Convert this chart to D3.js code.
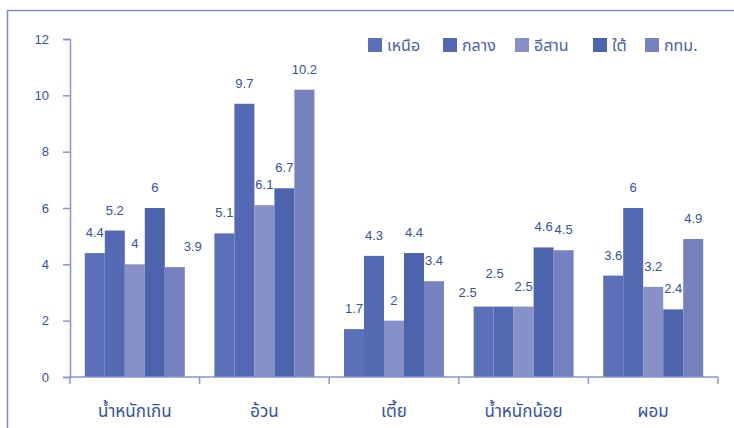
<!DOCTYPE html>
<html>
<head>
<meta charset="utf-8">
<script src="https://cdn.jsdelivr.net/npm/d3@7"></script>
<style>
  html, body { margin: 0; padding: 0; background: #ffffff; }
  svg { display: block; }
  text { font-family: "Liberation Sans", Arial, sans-serif; }
  .thai { font-family: "Noto Sans Thai", "Noto Sans", Tahoma, sans-serif; }
</style>
</head>
<body>
<svg id="chart" width="734" height="428"></svg>
<script>
// Nutrition status by region (percent)
const categories = ["น้ำหนักเกิน", "อ้วน", "เตี้ย", "น้ำหนักน้อย", "ผอม"];
const seriesNames = ["เหนือ", "กลาง", "อีสาน", "ใต้", "กทม."];
const north    = [4.4, 5.1, 1.7, 2.5, 3.6];
const central  = [5.2, 9.7, 4.3, 2.5, 6];
const northeast = [4, 6.1, 2, 2.5, 3.2];
const south    = [6, 6.7, 4.4, 4.6, 2.4];
const bangkok  = [3.9, 10.2, 3.4, 4.5, 4.9];
const yTicks = [0, 2, 4, 6, 8, 10, 12];

const seriesValues = [north, central, northeast, south, bangkok];
const colors = ["#5b70b8", "#5369b4", "#8790c7", "#4c64ae", "#7681bf"];
const axisColor = "#8a93cc";
const textColor = "#3452a4";

// A few value labels sit off-centre to keep them clear of neighbouring bars
const labelNudge = {
  "0-4": [18, 0],
  "3-0": [-16, 6],
  "3-1": [-9, -13]
};

const svg = d3.select("#chart");
const margin = { left: 70, right: 16, top: 39, bottom: 51 };
const W = 734, H = 428;

// outer frame
svg.append("rect")
  .attr("x", 7.5).attr("y", 10.5)
  .attr("width", 760).attr("height", 440)
  .attr("fill", "none")
  .attr("stroke", "#7f8ac9")
  .attr("stroke-width", 1.5);

const x0 = d3.scaleBand()
  .domain(categories)
  .range([margin.left, W - margin.right])
  .paddingInner(0).paddingOuter(0);

const x1 = d3.scaleBand()
  .domain(d3.range(seriesNames.length))
  .range([0, x0.bandwidth()])
  .paddingInner(0).paddingOuter(0.74);

const y = d3.scaleLinear()
  .domain([0, 12])
  .range([H - margin.bottom, margin.top]);

// bars
const groups = svg.append("g").selectAll("g")
  .data(categories)
  .join("g")
  .attr("transform", d => `translate(${x0(d)},0)`);

groups.selectAll("rect")
  .data((c, ci) => seriesValues.map((vals, si) => ({ si, ci, v: vals[ci] })))
  .join("rect")
  .attr("x", d => x1(d.si))
  .attr("y", d => y(d.v))
  .attr("width", x1.bandwidth())
  .attr("height", d => y(0) - y(d.v))
  .attr("fill", d => colors[d.si]);

// value labels
groups.selectAll("text.val")
  .data((c, ci) => seriesValues.map((vals, si) => ({ si, ci, v: vals[ci] })))
  .join("text")
  .attr("class", "val")
  .attr("x", d => x1(d.si) + x1.bandwidth() / 2 + (labelNudge[d.ci + "-" + d.si] || [0, 0])[0])
  .attr("y", d => y(d.v) - 16 + (labelNudge[d.ci + "-" + d.si] || [0, 0])[1])
  .attr("text-anchor", "middle")
  .attr("font-size", 13)
  .attr("fill", textColor)
  .text(d => d.v);

// y axis
const yAxis = d3.axisLeft(y).tickValues(yTicks).tickSize(7).tickPadding(14).tickFormat(d3.format("d"));
const gy = svg.append("g")
  .attr("transform", `translate(${margin.left},0)`)
  .call(yAxis);
gy.select(".domain").attr("stroke", axisColor).attr("stroke-width", 1.5);
gy.selectAll(".tick line").attr("stroke", axisColor).attr("stroke-width", 1.5);
gy.selectAll(".tick text")
  .attr("fill", textColor)
  .attr("font-size", 13)
  .attr("font-family", "'Liberation Sans', Arial, sans-serif");

// x axis: baseline with ticks at the category boundaries
const bounds = categories.map(c => x0(c)).concat([x0.range()[1]]);
const gx = svg.append("g");
gx.append("line")
  .attr("x1", margin.left).attr("x2", x0.range()[1])
  .attr("y1", y(0)).attr("y2", y(0))
  .attr("stroke", axisColor).attr("stroke-width", 1.5);
gx.selectAll("line.tk")
  .data(bounds)
  .join("line")
  .attr("class", "tk")
  .attr("x1", d => d).attr("x2", d => d)
  .attr("y1", y(0)).attr("y2", y(0) + 7)
  .attr("stroke", axisColor).attr("stroke-width", 1.5);
gx.selectAll("text")
  .data(categories)
  .join("text")
  .attr("class", "thai")
  .attr("x", d => x0(d) + x0.bandwidth() / 2)
  .attr("y", y(0) + 40)
  .attr("text-anchor", "middle")
  .attr("font-size", 17)
  .attr("fill", textColor)
  .text(d => d);

// legend
const legendX = [368, 443, 515, 593, 645];
const legend = svg.append("g").selectAll("g")
  .data(seriesNames)
  .join("g")
  .attr("transform", (d, i) => `translate(${legendX[i]},38)`);
legend.append("rect")
  .attr("width", 14).attr("height", 14)
  .attr("fill", (d, i) => colors[i]);
legend.append("text")
  .attr("class", "thai")
  .attr("x", 19).attr("y", 13)
  .attr("font-size", 16)
  .attr("fill", "#4a60ae")
  .text(d => d);
</script>
</body>
</html>
